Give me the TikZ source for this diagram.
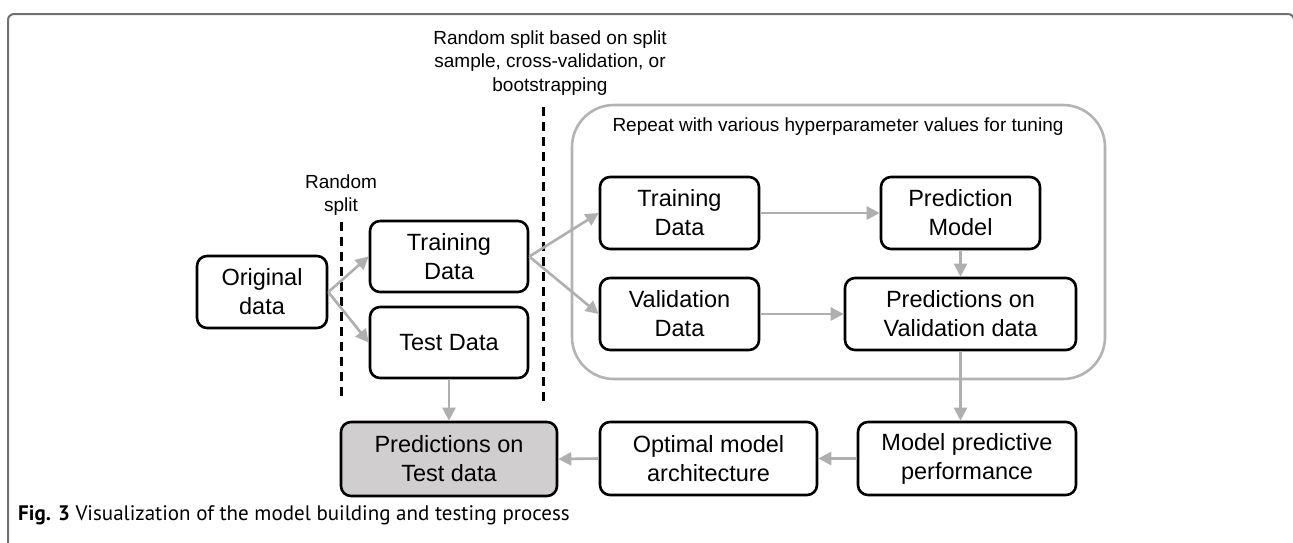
\documentclass[tikz,border=0pt]{standalone}
\usepackage{fontspec}
\setmainfont{Liberation Sans}
\newfontfamily\capfont{PT Sans}
\usetikzlibrary{arrows.meta}
\definecolor{arrowgray}{HTML}{B0AEAE}
\definecolor{loopgray}{HTML}{B4B2B2}
\definecolor{framegray}{HTML}{707070}
\definecolor{testfill}{HTML}{D0CECE}
\tikzset{
  flowbox/.style={draw=black, line width=2.6pt, rounded corners=10pt,
    minimum height=72pt, inner sep=0pt, align=center,
    font=\fontsize{23.5}{29}\selectfont},
  flowarrow/.style={draw=arrowgray, line width=2.6pt,
    -{Triangle[length=13pt,width=13pt]}},
  splitline/.style={draw=black, line width=3pt, dash pattern=on 9pt off 6pt},
  note/.style={align=center, inner sep=0pt, font=\fontsize{19}{23.5}\selectfont}
}
\begin{document}
\begin{tikzpicture}[x=1pt,y=-1pt]
\useasboundingbox (0,0) rectangle (1293,542);
% outer figure frame
\draw[framegray, line width=2pt, rounded corners=6pt]
  (8,600) -- (8,14) -- (1294,14) -- (1294,600);

% tuning loop enclosure
\draw[loopgray, line width=2.6pt, rounded corners=42pt]
  (572,105) rectangle (1105,379);
\node[note] (repeatlbl) at (838,127) {Repeat with various hyperparameter values for tuning};

% split markers
\node[note] (splitlbl) at (341,195) {Random\\split};
\node[note] (cvlbl) at (550,63) {Random split based on split\\sample, cross-validation, or\\bootstrapping};
\coordinate (s1top) at (341,222);
\coordinate (s1bot) at (341,398);
\coordinate (s2top) at (543,107);
\coordinate (s2bot) at (543,402);
\draw[splitline] (s1top) -- (s1bot);
\draw[splitline] (s2top) -- (s2bot);

% boxes
\node[flowbox, minimum width=130pt] (orig) at (262,292) {Original\\data};
\node[flowbox, minimum width=158pt, minimum height=71pt] (train1) at (449,256.5) {Training\\Data};
\node[flowbox, minimum width=158pt, minimum height=71pt] (test1) at (449,342.5) {Test Data};
\node[flowbox, minimum width=159pt] (train2) at (679.5,213) {Training\\Data};
\node[flowbox, minimum width=159pt] (val) at (679.5,314) {Validation\\Data};
\node[flowbox, minimum width=159pt] (predmodel) at (960.5,213) {Prediction\\Model};
\node[flowbox, minimum width=231pt] (predval) at (960.5,314) {Predictions on\\Validation data};
\node[flowbox, minimum width=218pt, minimum height=73pt] (perf) at (967,458.5) {Model predictive\\performance};
\node[flowbox, minimum width=217pt, minimum height=73pt] (optimal) at (708.5,458.5) {Optimal model\\architecture};
\node[flowbox, minimum width=216pt, minimum height=74pt, fill=testfill] (predtest) at (449,459) {Predictions on\\Test data};

% connectors
\draw[flowarrow] (orig.east) -- (train1.west);
\draw[flowarrow] (orig.east) -- (test1.west);
\draw[flowarrow] (train1.east) -- (train2.west);
\draw[flowarrow] (train1.east) -- (val.west);
\draw[flowarrow] (train2.east) -- (predmodel.west);
\draw[flowarrow] (val.east) -- (predval.west);
\draw[flowarrow] (predmodel.south) -- (predval.north);
\draw[flowarrow] (predval.south) -- (predval.south |- perf.north);
\draw[flowarrow] (perf.west) -- (optimal.east);
\draw[flowarrow] (optimal.west) -- (predtest.east);
\draw[flowarrow] (test1.south) -- (predtest.north);

% caption
\node[anchor=base west, inner sep=0pt, font=\capfont\fontsize{21}{25}\selectfont] (caption) at (18,520)
  {\textbf{Fig. 3} Visualization of the model building and testing process};
\end{tikzpicture}
\end{document}
